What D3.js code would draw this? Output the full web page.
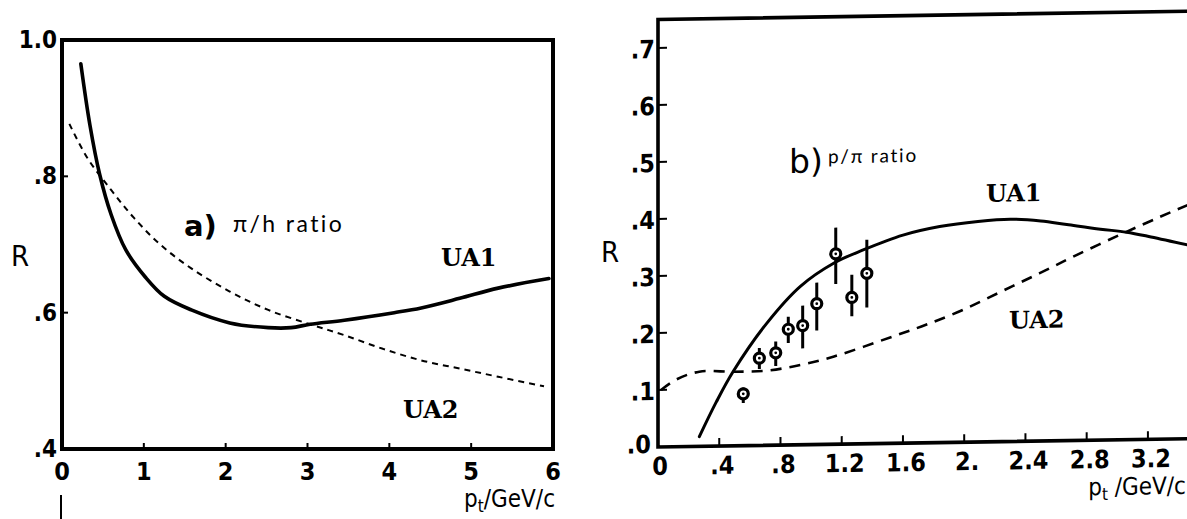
<!DOCTYPE html>
<html>
<head>
<meta charset="utf-8">
<script src="https://cdn.jsdelivr.net/npm/d3@7"></script>
<style>
  html, body { margin: 0; padding: 0; background: #fff; }
  svg { display: block; }
  .tick-label { font-family: "DejaVu Sans", sans-serif; font-stretch: condensed; fill: #000; }
  .tick-num { font-weight: bold; }
  .curve-label { font-family: "DejaVu Serif", serif; font-weight: bold; fill: #000; }
</style>
</head>
<body>
<svg id="chart" width="1187" height="519"></svg>
<script>
// ---------- panel (a): pi/h ratio ----------
const ptA_UA1 = [0.23, 0.34, 0.46, 0.60, 0.78, 1.02, 1.25, 1.58, 2.05, 2.52, 2.80, 3.03, 3.45, 4.06, 4.39, 4.86, 5.33, 5.95];
const rA_UA1  = [0.965, 0.876, 0.803, 0.744, 0.692, 0.652, 0.624, 0.604, 0.585, 0.578, 0.578, 0.583, 0.589, 0.600, 0.607, 0.621, 0.636, 0.650];
const ptA_UA2 = [0.09, 0.31, 0.60, 0.88, 1.20, 1.58, 2.05, 2.52, 3.03, 3.45, 3.92, 4.39, 4.86, 5.33, 5.89];
const rA_UA2  = [0.877, 0.827, 0.780, 0.739, 0.700, 0.665, 0.631, 0.604, 0.583, 0.567, 0.547, 0.530, 0.518, 0.506, 0.492];
const xTicksA = [0, 1, 2, 3, 4, 5, 6];
const xTickLabelsA = ["0", "1", "2", "3", "4", "5", "6"];
const yTicksA = [1.0, 0.8, 0.6, 0.4];
const yTickLabelsA = ["1.0", ".8", ".6", ".4"];

// ---------- panel (b): p/pi ratio ----------
const ptB_UA1 = [0.27, 0.38, 0.49, 0.71, 0.93, 1.15, 1.34, 1.60, 1.84, 2.09, 2.30, 2.50, 2.67, 2.89, 3.06, 3.22, 3.46];
const rB_UA1  = [0.017, 0.077, 0.130, 0.214, 0.278, 0.318, 0.340, 0.365, 0.379, 0.387, 0.390, 0.386, 0.379, 0.370, 0.364, 0.355, 0.340];
const ptB_UA2 = [0.02, 0.12, 0.27, 0.49, 0.71, 0.93, 1.15, 1.54, 1.75, 1.99, 2.24, 2.49, 2.74, 3.03, 3.28, 3.46];
const rB_UA2  = [0.100, 0.118, 0.131, 0.130, 0.131, 0.140, 0.154, 0.188, 0.207, 0.232, 0.263, 0.294, 0.326, 0.361, 0.390, 0.410];
// measured points with error bars
const ptB_data = [0.557, 0.662, 0.769, 0.851, 0.945, 1.037, 1.161, 1.266, 1.364];
const rB_data  = [0.091, 0.153, 0.162, 0.203, 0.209, 0.247, 0.334, 0.257, 0.299];
const rB_lo    = [0.075, 0.134, 0.139, 0.179, 0.169, 0.200, 0.281, 0.224, 0.239];
const rB_hi    = [0.102, 0.171, 0.182, 0.225, 0.244, 0.284, 0.380, 0.297, 0.358];
const xTicksB = [0, 0.4, 0.8, 1.2, 1.6, 2.0, 2.4, 2.8, 3.2];
const xTickLabelsB = ["0", ".4", ".8", "1.2", "1.6", "2.", "2.4", "2.8", "3.2"];
const yTicksB = [0, 0.1, 0.2, 0.3, 0.4, 0.5, 0.6, 0.7];
const yTickLabelsB = [".0", ".1", ".2", ".3", ".4", ".5", ".6", ".7"];

const svg = d3.select("#chart");
const zip = (xs, ys) => xs.map((x, i) => [x, ys[i]]);

// ================= panel (a) =================
const xA = d3.scaleLinear().domain([0, 6]).range([62, 553]);
const yA = d3.scaleLinear().domain([0.4, 1.0]).range([449, 40]);
const gA = svg.append("g");

const lineA = d3.line().x(d => xA(d[0])).y(d => yA(d[1])).curve(d3.curveCatmullRom.alpha(0.5));

gA.append("path").datum(zip(ptA_UA2, rA_UA2))
  .attr("d", lineA).attr("fill", "none").attr("stroke", "#000")
  .attr("stroke-width", 2).attr("stroke-dasharray", "6,5");
gA.append("path").datum(zip(ptA_UA1, rA_UA1))
  .attr("d", lineA).attr("fill", "none").attr("stroke", "#000")
  .attr("stroke-width", 3.6).attr("stroke-linecap", "round");

// frame
gA.append("rect")
  .attr("x", xA(0)).attr("y", yA(1.0))
  .attr("width", xA(6) - xA(0)).attr("height", yA(0.4) - yA(1.0))
  .attr("fill", "none").attr("stroke", "#000").attr("stroke-width", 4);

// inward ticks
gA.selectAll(".xt").data(xTicksA.slice(1, -1)).enter().append("line")
  .attr("x1", d => xA(d)).attr("x2", d => xA(d))
  .attr("y1", yA(0.4)).attr("y2", yA(0.4) - 6)
  .attr("stroke", "#000").attr("stroke-width", 2);
gA.selectAll(".yt").data([0.8, 0.6]).enter().append("line")
  .attr("x1", xA(0)).attr("x2", xA(0) + 6)
  .attr("y1", d => yA(d)).attr("y2", d => yA(d))
  .attr("stroke", "#000").attr("stroke-width", 2);

gA.selectAll(".xl").data(xTicksA).enter().append("text")
  .attr("class", "tick-label tick-num").attr("font-size", 25)
  .attr("text-anchor", "middle")
  .attr("x", d => xA(d)).attr("y", 480)
  .text((d, i) => xTickLabelsA[i]);
gA.selectAll(".yl").data(yTicksA).enter().append("text")
  .attr("class", "tick-label tick-num").attr("font-size", 24)
  .attr("text-anchor", "end")
  .attr("x", 57).attr("y", d => yA(d) + 8)
  .text((d, i) => yTickLabelsA[i]);

// axis titles
gA.append("text").attr("class", "tick-label").attr("font-size", 29)
  .attr("x", 11).attr("y", 266).text("R");
const ptTitleA = gA.append("text").attr("class", "tick-label").attr("font-size", 24)
  .attr("text-anchor", "end").attr("x", 555).attr("y", 507);
ptTitleA.append("tspan").text("p");
ptTitleA.append("tspan").attr("font-size", 17).attr("dy", 5).text("t");
ptTitleA.append("tspan").attr("dy", -5).text("/GeV/c");
gA.append("line").attr("x1", 61).attr("x2", 61).attr("y1", 495).attr("y2", 519)
  .attr("stroke", "#000").attr("stroke-width", 2);

// panel title and curve labels
gA.append("text").attr("x", 184).attr("y", 236)
  .attr("font-family", "DejaVu Sans, sans-serif").attr("font-weight", "bold")
  .attr("font-size", 29).text("a)");
gA.append("text").attr("x", 233).attr("y", 232)
  .attr("font-family", "Lato, 'DejaVu Sans', sans-serif").attr("font-size", 23)
  .attr("letter-spacing", 2.4).text("\u03C0/h ratio");
gA.append("text").attr("class", "curve-label").attr("font-size", 24)
  .attr("x", 441).attr("y", 266).text("UA1");
gA.append("text").attr("class", "curve-label").attr("font-size", 24)
  .attr("x", 403).attr("y", 418).text("UA2");

// ================= panel (b) =================
const xB = d3.scaleLinear().domain([0, 1]).range([658, 811.1]);
const yB = d3.scaleLinear().domain([0, 0.7]).range([447, 48]);
svg.append("text").attr("class", "tick-label").attr("font-size", 29)
  .attr("x", 601).attr("y", 262).text("R");

// the whole right panel sits on a slightly slanted page
const gB = svg.append("g")
  .attr("transform", "translate(658,0) skewY(-0.9) translate(-658,0)");

const lineB = d3.line().x(d => xB(d[0])).y(d => yB(d[1])).curve(d3.curveCatmullRom.alpha(0.5));

gB.append("path").datum(zip(ptB_UA2, rB_UA2))
  .attr("d", lineB).attr("fill", "none").attr("stroke", "#000")
  .attr("stroke-width", 2.6).attr("stroke-dasharray", "11,8");
gB.append("path").datum(zip(ptB_UA1, rB_UA1))
  .attr("d", lineB).attr("fill", "none").attr("stroke", "#000")
  .attr("stroke-width", 3).attr("stroke-linecap", "round");

// error bars and markers
const pts = ptB_data.map((x, i) => ({ x, r: rB_data[i], lo: rB_lo[i], hi: rB_hi[i] }));
gB.selectAll(".eb").data(pts).enter().append("line")
  .attr("x1", d => xB(d.x)).attr("x2", d => xB(d.x))
  .attr("y1", d => yB(d.lo)).attr("y2", d => yB(d.hi))
  .attr("stroke", "#000").attr("stroke-width", 3);
gB.selectAll(".mk").data(pts).enter().append("circle")
  .attr("cx", d => xB(d.x)).attr("cy", d => yB(d.r)).attr("r", 5)
  .attr("fill", "#fff").attr("stroke", "#000").attr("stroke-width", 3.2);
gB.selectAll(".mc").data(pts).enter().append("circle")
  .attr("cx", d => xB(d.x)).attr("cy", d => yB(d.r)).attr("r", 1.4)
  .attr("fill", "#000");

// frame: left, bottom and top edges (the right edge runs off the page)
const yTop = 0.75;
gB.append("path")
  .attr("d", `M${xB(4)},${yB(yTop)} L${xB(0)},${yB(yTop)} L${xB(0)},${yB(0)} L${xB(4)},${yB(0)}`)
  .attr("fill", "none").attr("stroke", "#000").attr("stroke-width", 3.6);

gB.selectAll(".xt").data(xTicksB.slice(1)).enter().append("line")
  .attr("x1", d => xB(d)).attr("x2", d => xB(d))
  .attr("y1", yB(0)).attr("y2", yB(0) - 8)
  .attr("stroke", "#000").attr("stroke-width", 2);
gB.selectAll(".yt").data(yTicksB.slice(1)).enter().append("line")
  .attr("x1", xB(0)).attr("x2", xB(0) + 9)
  .attr("y1", d => yB(d)).attr("y2", d => yB(d))
  .attr("stroke", "#000").attr("stroke-width", 2);

gB.selectAll(".xl").data(xTicksB).enter().append("text")
  .attr("class", "tick-label tick-num").attr("font-size", 25)
  .attr("text-anchor", "middle")
  .attr("x", d => xB(d) + (d === 0 ? 2 : 3)).attr("y", 475)
  .text((d, i) => xTickLabelsB[i]);
gB.selectAll(".yl").data(yTicksB).enter().append("text")
  .attr("class", "tick-label tick-num").attr("font-size", 25)
  .attr("text-anchor", "end")
  .attr("x", d => d === 0 ? 651 : 655).attr("y", d => yB(d) + (d === 0 ? 6 : 10))
  .text((d, i) => yTickLabelsB[i]);

const ptTitleB = gB.append("text").attr("class", "tick-label").attr("font-size", 24)
  .attr("text-anchor", "end").attr("x", 1186).attr("y", 502);
ptTitleB.append("tspan").text("p");
ptTitleB.append("tspan").attr("font-size", 17).attr("dy", 5).text("t");
ptTitleB.append("tspan").attr("dy", -5).text(" /GeV/c");

gB.append("text").attr("x", 789).attr("y", 175)
  .attr("font-family", "DejaVu Sans, sans-serif")
  .attr("font-size", 33).text("b)");
gB.append("text").attr("x", 828).attr("y", 166)
  .attr("font-family", "Lato, 'DejaVu Sans', sans-serif").attr("font-size", 19)
  .attr("letter-spacing", 1.8).text("p/\u03C0 ratio");
gB.append("text").attr("class", "curve-label").attr("font-size", 24)
  .attr("x", 986).attr("y", 207).text("UA1");
gB.append("text").attr("class", "curve-label").attr("font-size", 24)
  .attr("x", 1009).attr("y", 334).text("UA2");
</script>
</body>
</html>
